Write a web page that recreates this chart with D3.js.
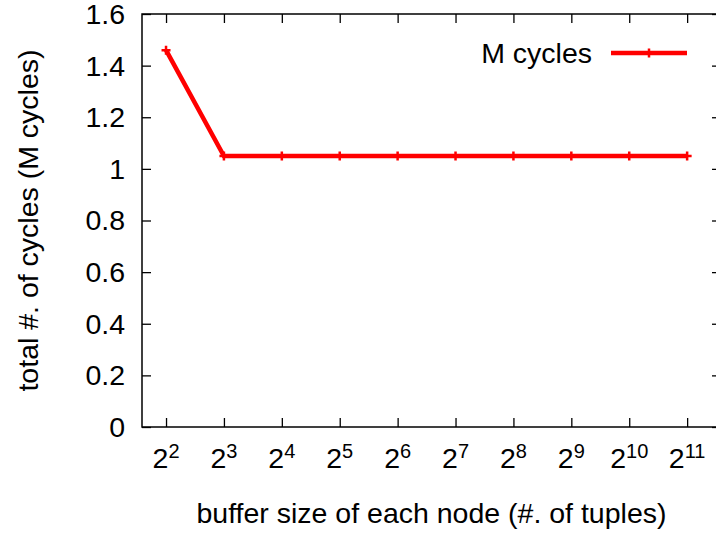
<!DOCTYPE html>
<html>
<head>
<meta charset="utf-8">
<script src="https://cdn.jsdelivr.net/npm/d3@7"></script>
<style>
  html, body { margin: 0; padding: 0; background: #fff; }
  svg { display: block; font-family: "Liberation Sans", Arial, Helvetica, sans-serif; }
</style>
</head>
<body>
<svg id="chart" width="716" height="539"></svg>
<script>
// buffer size exponents (2^k tuples) and total cycles in millions
const exponents = [2, 3, 4, 5, 6, 7, 8, 9, 10, 11];
const mCycles = [1.46, 1.05, 1.05, 1.05, 1.05, 1.05, 1.05, 1.05, 1.05, 1.05];
const yTicks = [0, 0.2, 0.4, 0.6, 0.8, 1, 1.2, 1.4, 1.6];
const seriesName = "M cycles";
const xTitle = "buffer size of each node (#. of tuples)";
const yTitle = "total #. of cycles (M cycles)";

const svg = d3.select("#chart");
const plotL = 142, plotR = 721, plotT = 14, plotB = 427;
const fontSize = 28.5, tickLen = 9;

const x = d3.scaleLinear().domain([1.585, 11.585]).range([plotL, plotR]);
const y = d3.scaleLinear().domain([0, 1.6]).range([plotB, plotT]);

// frame
svg.append("rect")
  .attr("x", plotL).attr("y", plotT)
  .attr("width", plotR - plotL).attr("height", plotB - plotT)
  .attr("fill", "none").attr("stroke", "#000").attr("stroke-width", 1.5);

// axes with inward ticks on all four sides
function styleAxis(g) {
  g.select(".domain").remove();
  g.selectAll(".tick line").attr("stroke", "#000").attr("stroke-width", 1.3);
  g.selectAll(".tick text").remove();
}
svg.append("g").attr("transform", `translate(0,${plotB})`)
  .call(d3.axisBottom(x).tickValues(exponents).tickSizeInner(-tickLen).tickSizeOuter(0).tickFormat(""))
  .call(styleAxis);
svg.append("g").attr("transform", `translate(0,${plotT})`)
  .call(d3.axisTop(x).tickValues(exponents).tickSizeInner(-tickLen).tickSizeOuter(0).tickFormat(""))
  .call(styleAxis);
svg.append("g").attr("transform", `translate(${plotL},0)`)
  .call(d3.axisLeft(y).tickValues(yTicks).tickSizeInner(-tickLen).tickSizeOuter(0).tickFormat(""))
  .call(styleAxis);
svg.append("g").attr("transform", `translate(${plotR},0)`)
  .call(d3.axisRight(y).tickValues(yTicks).tickSizeInner(-tickLen).tickSizeOuter(0).tickFormat(""))
  .call(styleAxis);

// y tick labels
svg.append("g").selectAll("text").data(yTicks).join("text")
  .attr("x", plotL - 17).attr("y", d => y(d))
  .attr("dy", "0.35em")
  .attr("text-anchor", "end")
  .attr("font-size", fontSize)
  .text(d => d3.format("~g")(d));

// x tick labels: 2 with superscript exponent
const xl = svg.append("g").selectAll("text").data(exponents).join("text")
  .attr("x", d => x(d)).attr("y", 468)
  .attr("text-anchor", "middle")
  .attr("font-size", fontSize);
xl.append("tspan").text("2");
xl.append("tspan").attr("font-size", 20).attr("dy", -10).text(d => d);

// axis titles
svg.append("text")
  .attr("x", (plotL + plotR) / 2).attr("y", 523)
  .attr("text-anchor", "middle").attr("font-size", fontSize)
  .text(xTitle);
svg.append("text")
  .attr("transform", `translate(38,${(plotT + plotB) / 2}) rotate(-90)`)
  .attr("text-anchor", "middle").attr("font-size", fontSize)
  .text(yTitle);

// series line
const red = "#ff0000";
const pts = exponents.map((e, i) => [e, mCycles[i]]);
svg.append("path")
  .datum(pts)
  .attr("fill", "none").attr("stroke", red).attr("stroke-width", 4.5)
  .attr("stroke-linejoin", "miter")
  .attr("d", d3.line().x(d => x(d[0])).y(d => y(d[1])));

// "+" point markers
const plus = (cx, cy, r) => `M${cx - r},${cy}H${cx + r}M${cx},${cy - r}V${cy + r}`;
svg.append("g").selectAll("path").data(pts).join("path")
  .attr("d", d => plus(x(d[0]), y(d[1]), 4.5))
  .attr("stroke", red).attr("stroke-width", 2.5).attr("fill", "none");

// legend
const legY = 53;
svg.append("text")
  .attr("x", 592).attr("y", legY).attr("dy", "0.35em")
  .attr("text-anchor", "end").attr("font-size", fontSize)
  .text(seriesName);
svg.append("line")
  .attr("x1", 611).attr("x2", 687).attr("y1", legY).attr("y2", legY)
  .attr("stroke", red).attr("stroke-width", 4.5);
svg.append("path")
  .attr("d", plus(649, legY, 4.5))
  .attr("stroke", red).attr("stroke-width", 2.5);
</script>
</body>
</html>
